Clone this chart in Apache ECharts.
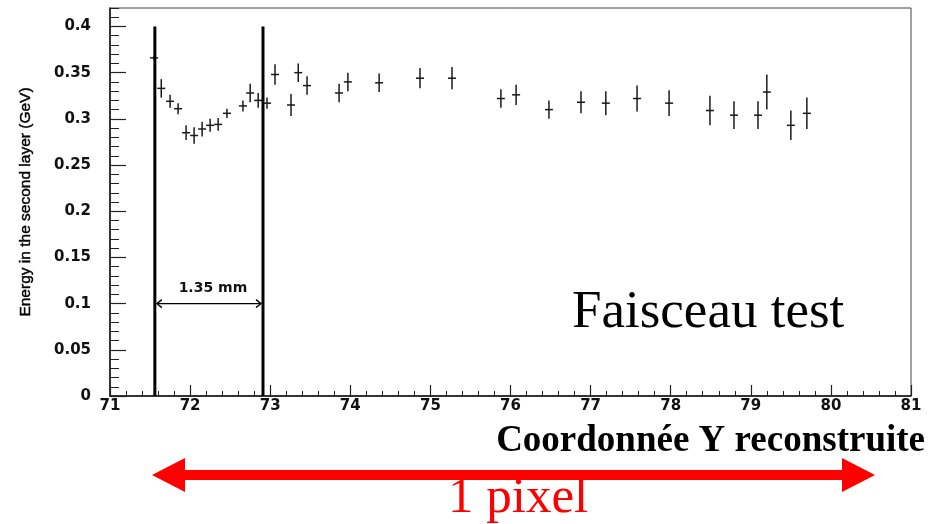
<!DOCTYPE html>
<html>
<head>
<meta charset="utf-8">
<script src="https://cdn.jsdelivr.net/npm/echarts@6/dist/echarts.min.js"></script>
<style>
  html, body { margin: 0; padding: 0; background: #fff; }
  #chart { width: 940px; height: 524px; }
</style>
</head>
<body>
<div id="chart"></div>
<script>
// Reconstructed Y coordinate (bin centres)
const posY = [71.55, 71.64, 71.75, 71.85, 71.95, 72.05, 72.15, 72.25, 72.35, 72.46,
              72.66, 72.75, 72.85, 72.96, 73.06, 73.26, 73.35, 73.46, 73.86, 73.97,
              74.36, 74.87, 75.27, 75.88, 76.07, 76.48, 76.88, 77.19, 77.58, 77.98,
              78.49, 78.79, 79.09, 79.20, 79.50, 79.70];
// Mean energy deposited in the second layer (GeV)
const energy = [0.366, 0.333, 0.319, 0.311, 0.285, 0.282, 0.289, 0.293, 0.294, 0.306,
                0.314, 0.328, 0.320, 0.317, 0.348, 0.315, 0.350, 0.336, 0.328, 0.340,
                0.339, 0.344, 0.344, 0.322, 0.326, 0.310, 0.318, 0.317, 0.322, 0.317,
                0.309, 0.304, 0.304, 0.329, 0.293, 0.306];
// Statistical uncertainty on the energy (GeV)
const energyErr = [0.002, 0.010, 0.007, 0.006, 0.008, 0.009, 0.008, 0.007, 0.007, 0.005,
                   0.006, 0.010, 0.008, 0.006, 0.011, 0.012, 0.010, 0.010, 0.010, 0.010,
                   0.010, 0.011, 0.012, 0.010, 0.011, 0.010, 0.012, 0.013, 0.014, 0.014,
                   0.016, 0.015, 0.015, 0.019, 0.016, 0.017];
// Half bin width on the coordinate axis
const binHalfWidth = 0.05;

// Cell boundaries (1.35 mm apart) and the energy up to which they are drawn
const cellEdges = [71.56, 72.91];
const edgeTop = 0.4;
const cellWidthLabel = '1.35 mm';
const cellArrowLevel = 0.1;

const xTicks = [71, 72, 73, 74, 75, 76, 77, 78, 79, 80, 81];
const yTickLabels = ['0', '0.05', '0.1', '0.15', '0.2', '0.25', '0.3', '0.35', '0.4'];

const chart = echarts.init(document.getElementById('chart'));

const points = posY.map((x, i) => [x, energy[i], energyErr[i]]);

const axisFont = { fontFamily: '"DejaVu Sans", Verdana, sans-serif', fontWeight: 'bold', fontSize: 15, color: '#111' };

chart.setOption({
  animation: false,
  grid: { left: 110, right: 29, top: 8, bottom: 128, show: true, borderColor: '#444', borderWidth: 1 },
  xAxis: {
    type: 'value', min: xTicks[0], max: xTicks[xTicks.length - 1], interval: 1,
    axisLine: { show: true, lineStyle: { color: '#111', width: 1.5 } },
    axisTick: { show: true, inside: true, length: 11, lineStyle: { color: '#222', width: 1.2 } },
    minorTick: { show: true, splitNumber: 5, length: 5, lineStyle: { color: '#222', width: 1 } },
    axisLabel: Object.assign({ margin: 3 }, axisFont),
    splitLine: { show: false }
  },
  yAxis: [{
    type: 'value', min: 0, max: 0.42, interval: 0.05,
    name: 'Energy in the second layer (GeV)',
    nameLocation: 'middle', nameRotate: 90, nameGap: 76,
    nameTextStyle: { fontFamily: '"Liberation Sans Narrow", "Arial Narrow", "Liberation Sans", Arial, sans-serif',
                     fontSize: 15.5, color: '#000', textBorderColor: '#222', textBorderWidth: 0.5,
                     padding: [0, 0, 0, 0] },
    axisLine: { show: true, lineStyle: { color: '#111', width: 1.5 } },
    axisTick: { show: true, inside: true, length: 16, lineStyle: { color: '#222', width: 1.2 } },
    axisLabel: Object.assign({
      margin: 19, showMaxLabel: false,
      formatter: v => yTickLabels[Math.round(v / 0.05)] || ''
    }, axisFont),
    splitLine: { show: false }
  }, {
    type: 'value', min: 0, max: 0.42, interval: 0.01, position: 'left',
    axisLine: { show: false },
    axisTick: { show: true, inside: true, length: 9, lineStyle: { color: '#222', width: 1 } },
    axisLabel: { show: false },
    splitLine: { show: false }
  }],
  series: [{
    // measured points with error crosses
    type: 'custom',
    data: points,
    renderItem: (params, api) => {
      const x = api.value(0), y = api.value(1), e = api.value(2);
      const top = api.coord([x, y + e]);
      const bot = api.coord([x, y - e]);
      const l = api.coord([x - binHalfWidth, y]);
      const r = api.coord([x + binHalfWidth, y]);
      const st = { stroke: '#1a1a1a', lineWidth: 1.5 };
      return { type: 'group', children: [
        { type: 'line', shape: { x1: top[0], y1: top[1], x2: bot[0], y2: bot[1] }, style: st },
        { type: 'line', shape: { x1: l[0], y1: l[1], x2: r[0], y2: r[1] }, style: st }
      ] };
    }
  }, {
    // cell boundaries
    type: 'custom',
    data: cellEdges.map(x => [x, edgeTop]),
    renderItem: (params, api) => {
      const a = api.coord([api.value(0), 0]);
      const b = api.coord([api.value(0), api.value(1)]);
      return { type: 'line', shape: { x1: a[0], y1: a[1], x2: b[0], y2: b[1] }, style: { stroke: '#000', lineWidth: 3 } };
    }
  }, {
    // cell width arrow and label
    type: 'custom',
    data: [[cellEdges[0], cellEdges[1], cellArrowLevel]],
    renderItem: (params, api) => {
      const p1 = api.coord([api.value(0), api.value(2)]);
      const p2 = api.coord([api.value(1), api.value(2)]);
      const st = { stroke: '#000', lineWidth: 1.3, fill: null };
      const h = 7, w = 4;
      return { type: 'group', children: [
        { type: 'line', shape: { x1: p1[0] + 2, y1: p1[1], x2: p2[0] - 2, y2: p2[1] }, style: st },
        { type: 'polyline', shape: { points: [[p1[0] + h, p1[1] - w], [p1[0] + 2, p1[1]], [p1[0] + h, p1[1] + w]] }, style: st },
        { type: 'polyline', shape: { points: [[p2[0] - h, p2[1] - w], [p2[0] - 2, p2[1]], [p2[0] - h, p2[1] + w]] }, style: st },
        { type: 'text', x: (p1[0] + p2[0]) / 2 + 4, y: p1[1] - 15,
          style: { text: cellWidthLabel, textAlign: 'center', textVerticalAlign: 'middle',
                   font: 'bold 14px "DejaVu Sans", Verdana, sans-serif', fill: '#111' } }
      ] };
    }
  }],
  graphic: [
    { type: 'text', left: 572, top: 287,
      style: { text: 'Faisceau test', font: '53px "Liberation Serif", "Times New Roman", serif', fill: '#000' } },
    { type: 'text', right: 15, top: 423,
      style: { text: 'Coordonnée Y reconstruite', font: 'bold 37px "Liberation Serif", "Times New Roman", serif', fill: '#000' } },
    { type: 'polygon',
      shape: { points: [[152, 475], [185, 458], [185, 470], [842, 470], [842, 458], [875, 475], [842, 492], [842, 480], [185, 480], [185, 492]] },
      style: { fill: '#ff0000' } },
    { type: 'text', left: 448, top: 473,
      style: { text: '1 pixel', font: '51px "Liberation Serif", "Times New Roman", serif', fill: '#ff0000' } }
  ]
});
</script>
</body>
</html>
